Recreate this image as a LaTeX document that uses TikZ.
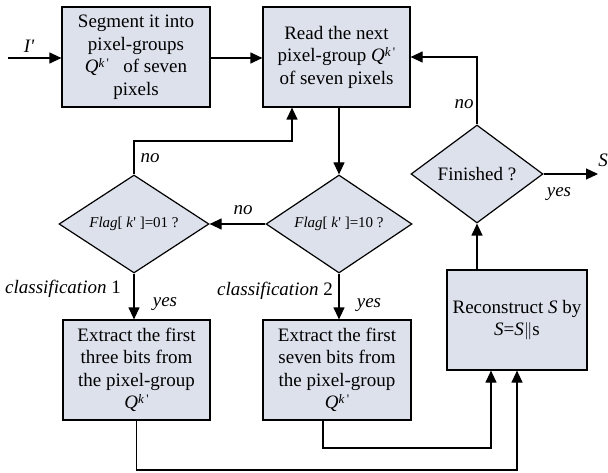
\documentclass[tikz,border=0pt]{standalone}
\usepackage{fontspec}
\setmainfont{Liberation Serif}
\usetikzlibrary{arrows.meta,shapes.geometric}
\definecolor{boxfill}{RGB}{221,225,236}
\newcommand{\Qk}{\textit{Q}\raisebox{0.6ex}{\fontsize{13}{13}\selectfont\textit{k}\,\textquotesingle}}
\begin{document}
\begin{tikzpicture}[x=1pt,y=-1pt,
  every node/.style={font=\fontsize{19}{22.5}\selectfont},
  stepbox/.style={draw,line width=1.2pt,fill=boxfill,align=center,inner sep=0pt},
  test/.style={draw,line width=1.2pt,fill=boxfill,diamond,inner sep=0pt,aspect=1.5},
  flow/.style={line width=1.2pt,-{Triangle[length=12pt,width=11pt]}},
  lbl/.style={font=\fontsize{19}{22}\selectfont\itshape,inner sep=0pt}]
\useasboundingbox (0,0) rectangle (608,473);

% process boxes
\node[stepbox,minimum width=148pt,minimum height=100pt] (seg) at (136,57)
  {Segment it into\\pixel-groups\\\Qk\ \ \ of seven\\pixels};
\node[stepbox,minimum width=147pt,minimum height=100pt] (read) at (336.5,57)
  {Read the next\\pixel-group \Qk\\of seven pixels};
\node[stepbox,minimum width=147pt,minimum height=100pt] (ex3) at (136.5,370)
  {Extract the first\\three bits from\\the pixel-group\\\Qk};
\node[stepbox,minimum width=148pt,minimum height=100pt] (ex7) at (337,370)
  {Extract the first\\seven bits from\\the pixel-group\\\Qk};
\node[stepbox,minimum width=140pt,minimum height=100pt] (rec) at (517,320)
  {Reconstruct \textit{S} by\\\textit{S}=\textit{S}$\|$s};

% decisions
\node[test,minimum width=150pt,minimum height=98pt,font=\fontsize{15}{17}\selectfont] (f01) at (134,224)
  {\textit{Flag}[ \textit{k}\textquotesingle\ ]=01 ?};
\node[test,minimum width=146pt,minimum height=98pt,font=\fontsize{15}{17}\selectfont] (f10) at (339,224)
  {\textit{Flag}[ \textit{k}\textquotesingle\ ]=10 ?};
\node[test,minimum width=132pt,minimum height=98pt] (fin) at (477,174) {Finished ?};

% free ends
\coordinate (in) at (8,58);
\coordinate (out) at (598,174);

% connectors
\draw[flow] (in) -- (seg.west |- in);
\draw[flow] (seg.east |- in) -- (read.west |- in);
\draw[flow] (read.south -| f10.north) -- (f10.north);
\draw[flow] (f10.west) -- (f01.east);
\draw[flow] (f01.north) -- (134,141) -- (292,141) -- (read.south -| 292,0);
\draw[flow] (f01.south) -- (ex3.north -| f01.south);
\draw[flow] (f10.south) -- (ex7.north -| f10.south);
\draw[flow] (ex3.south) -- (136.5,470) -- (517,470) -- (rec.south -| 517,0);
\draw[flow] (ex7.south -| 323,0) -- (323,448) -- (491,448) -- (rec.south -| 491,0);
\draw[flow] (rec.north -| fin.south) -- (fin.south);
\draw[flow] (fin.north) -- (477,57) -- (read.east |- 0,57);
\draw[flow] (fin.east) -- (out);

% labels
\node[lbl] (lin) at (29,46) {\textit{I}\textquotesingle};
\node[lbl] (lout) at (603,160) {S};
\node[lbl] (lyes0) at (559,194) {yes};
\node[lbl] (lno0) at (464,104) {no};
\node[lbl] (lno1) at (150,158) {no};
\node[lbl] (lno2) at (243,210) {no};
\node[lbl] (lc1) at (63,289) {classification \upshape 1};
\node[lbl] (lc2) at (275,291) {classification \upshape 2};
\node[lbl] (lyes1) at (165,304) {yes};
\node[lbl] (lyes2) at (369,305) {yes};
\end{tikzpicture}
\end{document}
